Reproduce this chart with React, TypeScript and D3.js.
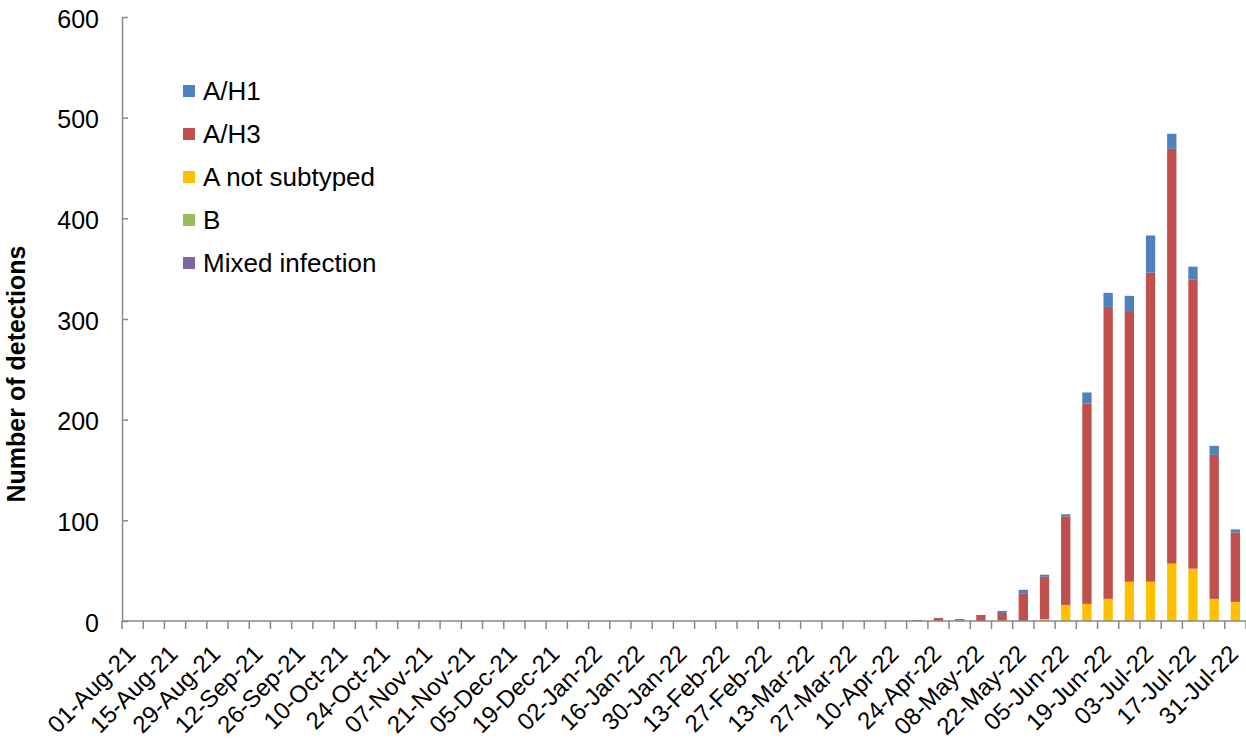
import React, { useEffect, useRef } from "react";
import * as d3 from "d3";

const weeks = [
  "01-Aug-21", "08-Aug-21", "15-Aug-21", "22-Aug-21", "29-Aug-21",
  "05-Sep-21", "12-Sep-21", "19-Sep-21", "26-Sep-21",
  "03-Oct-21", "10-Oct-21", "17-Oct-21", "24-Oct-21", "31-Oct-21",
  "07-Nov-21", "14-Nov-21", "21-Nov-21", "28-Nov-21",
  "05-Dec-21", "12-Dec-21", "19-Dec-21", "26-Dec-21",
  "02-Jan-22", "09-Jan-22", "16-Jan-22", "23-Jan-22", "30-Jan-22",
  "06-Feb-22", "13-Feb-22", "20-Feb-22", "27-Feb-22",
  "06-Mar-22", "13-Mar-22", "20-Mar-22", "27-Mar-22",
  "03-Apr-22", "10-Apr-22", "17-Apr-22", "24-Apr-22",
  "01-May-22", "08-May-22", "15-May-22", "22-May-22", "29-May-22",
  "05-Jun-22", "12-Jun-22", "19-Jun-22", "26-Jun-22",
  "03-Jul-22", "10-Jul-22", "17-Jul-22", "24-Jul-22", "31-Jul-22",
];

// only every second week is labelled
const tickLabels = weeks.filter((_, i) => i % 2 === 0);

// weekly counts, Aug-21 .. Jul-22
const aH1 = [
  0, 0, 0, 0, 0, 0, 0, 0, 0, 0, 0, 0, 0, 0, 0, 0, 0, 0, 0, 0, 0, 0, 0, 0, 0, 0,
  0, 0, 0, 0, 0, 0, 0, 0, 0, 0, 0, 0, 0, 1, 0, 2, 4, 2, 2, 11, 14, 15, 37, 15, 13, 9, 3,
];
const aH3 = [
  0, 0, 0, 0, 0, 0, 0, 0, 0, 0, 0, 0, 0, 0, 0, 0, 0, 0, 0, 0, 0, 0, 0, 0, 0, 0,
  0, 0, 0, 0, 0, 0, 0, 0, 0, 0, 0, 1, 3, 0, 6, 7, 27, 42, 88, 199, 290, 269, 307, 412, 287, 143, 69,
];
const aNotSubtyped = [
  0, 0, 0, 0, 0, 0, 0, 0, 0, 0, 0, 0, 0, 0, 0, 0, 0, 0, 0, 0, 0, 0, 0, 0, 0, 0,
  0, 0, 0, 0, 0, 0, 0, 0, 0, 0, 0, 0, 0, 0, 0, 0, 0, 2, 16, 17, 22, 39, 39, 57, 52, 22, 19,
];
const bType = [
  0, 0, 0, 0, 0, 0, 0, 0, 0, 0, 0, 0, 0, 0, 0, 0, 0, 0, 0, 0, 0, 0, 0, 0, 0, 0,
  0, 0, 0, 0, 0, 0, 0, 0, 0, 0, 0, 0, 0, 1, 0, 1, 0, 0, 0, 0, 0, 0, 0, 0, 0, 0, 0,
];
const mixed = [
  0, 0, 0, 0, 0, 0, 0, 0, 0, 0, 0, 0, 0, 0, 0, 0, 0, 0, 0, 0, 0, 0, 0, 0, 0, 0,
  0, 0, 0, 0, 0, 0, 0, 0, 0, 0, 0, 0, 0, 0, 0, 0, 0, 0, 0, 0, 0, 0, 0, 0, 0, 0, 0,
];

const series = [
  { key: "A/H1", values: aH1, color: "#4F81BD" },
  { key: "A/H3", values: aH3, color: "#C0504D" },
  { key: "A not subtyped", values: aNotSubtyped, color: "#FFC000" },
  { key: "B", values: bType, color: "#9BBB59" },
  { key: "Mixed infection", values: mixed, color: "#8064A2" },
];
// stacking order from the bottom
const stackOrder = ["B", "A not subtyped", "A/H3", "A/H1", "Mixed infection"];

const App: React.FC = () => {
  const svgRef = useRef<SVGSVGElement | null>(null);

  useEffect(() => {
    const width = 1246;
    const height = 742;
    const margin = { top: 17, right: 0, bottom: 121, left: 122 };
    const font = "Arial, 'Liberation Sans', sans-serif";
    const axisColor = "#898989";

    const svg = d3.select(svgRef.current);
    svg.selectAll("*").remove();
    svg.attr("width", width).attr("height", height);

    const rows = weeks.map((w, i) => {
      const r: any = { week: w };
      series.forEach((s) => (r[s.key] = s.values[i]));
      return r;
    });

    const stacked = d3.stack<any>().keys(stackOrder)(rows);

    const x = d3
      .scaleBand()
      .domain(weeks)
      .range([margin.left, width - margin.right])
      .paddingInner(0.56)
      .paddingOuter(0.28);

    const y = d3
      .scaleLinear()
      .domain([0, 600])
      .range([height - margin.bottom, margin.top]);

    const colorOf = (k: string) => series.find((s) => s.key === k)!.color;

    // bars
    svg
      .append("g")
      .selectAll("g")
      .data(stacked)
      .join("g")
      .attr("fill", (d) => colorOf(d.key))
      .selectAll("rect")
      .data((d) => d)
      .join("rect")
      .attr("x", (d: any) => x(d.data.week)!)
      .attr("width", x.bandwidth())
      .attr("y", (d) => y(d[1]))
      .attr("height", (d) => y(d[0]) - y(d[1]));

    // y axis
    const yAxis = svg
      .append("g")
      .attr("transform", `translate(${margin.left},0)`)
      .call(d3.axisLeft(y).tickValues(d3.range(0, 601, 100)).tickSize(-6).tickPadding(23).tickSizeOuter(0));
    yAxis.select(".domain").attr("stroke", axisColor).attr("stroke-width", 1.5);
    yAxis.selectAll(".tick line").attr("stroke", axisColor).attr("stroke-width", 1.5);
    yAxis
      .selectAll(".tick text")
      .attr("font-family", font)
      .attr("font-size", 25)
      .attr("fill", "#000")
      .attr("dy", "0.4em");

    // x axis line and ticks at week boundaries
    const y0 = y(0);
    const step = x.step();
    const offset = (step - x.bandwidth()) / 2;
    const xg = svg.append("g");
    xg.append("line")
      .attr("x1", margin.left)
      .attr("x2", width)
      .attr("y1", y0)
      .attr("y2", y0)
      .attr("stroke", axisColor)
      .attr("stroke-width", 1.5);
    const bounds = weeks.map((w) => x(w)! - offset).concat([x(weeks[weeks.length - 1])! + x.bandwidth() + offset]);
    xg.selectAll("line.tk")
      .data(bounds)
      .join("line")
      .attr("class", "tk")
      .attr("x1", (d) => d)
      .attr("x2", (d) => d)
      .attr("y1", y0)
      .attr("y2", y0 + 8)
      .attr("stroke", axisColor)
      .attr("stroke-width", 1.5);

    xg.selectAll("text")
      .data(tickLabels)
      .join("text")
      .attr("transform", (d) => `translate(${x(d)! + x.bandwidth() / 2 - 8},${y0 + 22}) rotate(-45)`)
      .attr("text-anchor", "end")
      .attr("dy", "0.72em")
      .attr("font-family", font)
      .attr("font-size", 24)
      .attr("fill", "#000")
      .text((d) => d);

    // y title
    svg
      .append("text")
      .attr("transform", `translate(25,374) rotate(-90)`)
      .attr("text-anchor", "middle")
      .attr("font-family", font)
      .attr("font-size", 25)
      .attr("font-weight", "bold")
      .attr("fill", "#000")
      .text("Number of detections");

    // legend
    const legend = svg
      .append("g")
      .selectAll("g")
      .data(series)
      .join("g")
      .attr("transform", (_, i) => `translate(183,${91 + i * 43})`);
    legend
      .append("rect")
      .attr("x", 0)
      .attr("y", -6)
      .attr("width", 12)
      .attr("height", 12)
      .attr("fill", (d) => d.color);
    legend
      .append("text")
      .attr("x", 20)
      .attr("y", 9)
      .attr("font-family", font)
      .attr("font-size", 26)
      .attr("fill", "#000")
      .text((d) => d.key);
  }, []);

  return (
    <svg
      ref={svgRef}
      style={{ position: "absolute", left: 0, top: 0, background: "#fff" }}
    ></svg>
  );
};

export default App;
